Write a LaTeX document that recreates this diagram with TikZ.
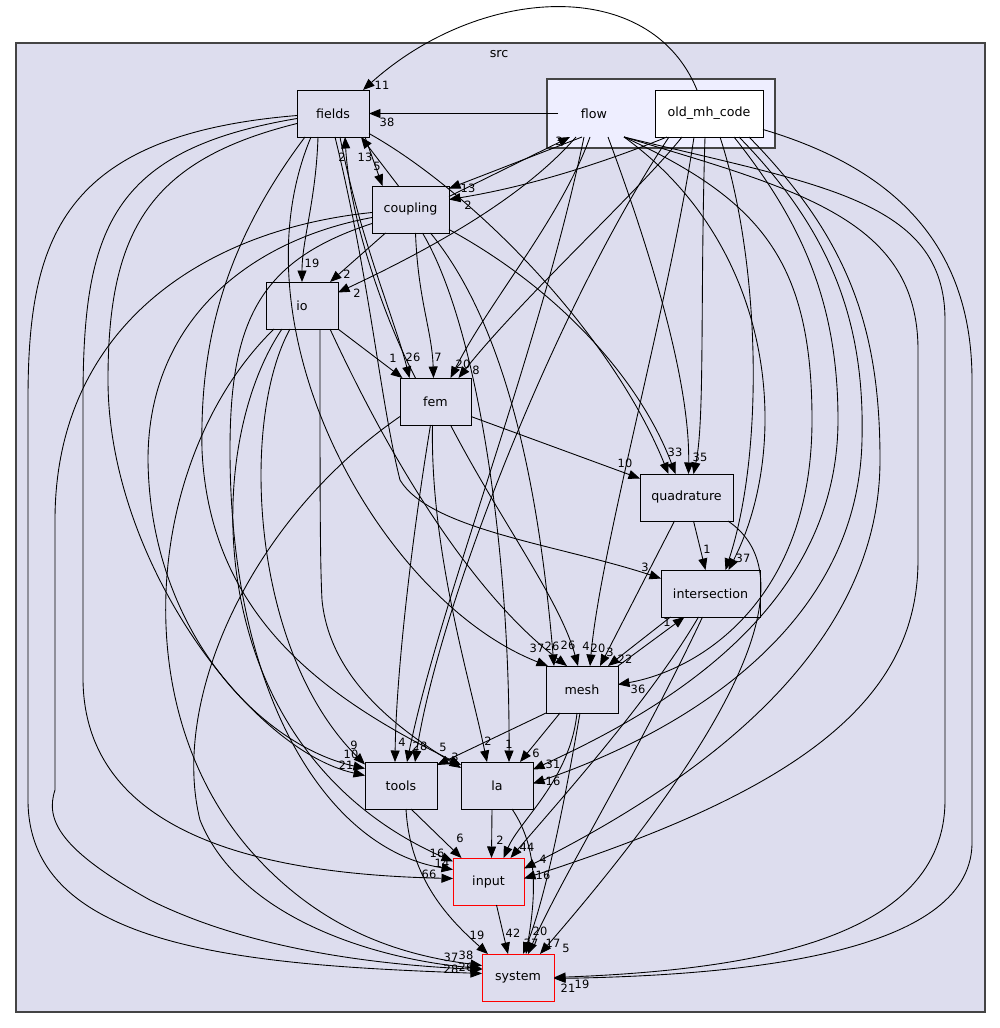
\documentclass[tikz,border=0pt]{standalone}
\usepackage{fontspec}
\setmainfont{DejaVu Sans}
\usetikzlibrary{arrows.meta,calc}
\definecolor{Src}{HTML}{DDDDEE}
\definecolor{Flow}{HTML}{EEEEFF}
\definecolor{Frame}{HTML}{444444}

\begin{document}
\begin{tikzpicture}[x=0.02cm,y=-0.02cm,
    dirbox/.style={draw,fill=Src,line width=0.55pt,minimum height=0.94cm,minimum width=1.44cm,inner sep=0pt,outer sep=0pt,font=\fontsize{7.2}{8.6}\selectfont},
    redbox/.style={dirbox,draw=red},
    clus/.style={draw=Frame,line width=0.75pt},
    dep/.style={-{Triangle[length=2.3mm,width=1.8mm]},line width=0.5pt},
    num/.style={inner sep=0pt,font=\fontsize{6.5}{7.5}\selectfont}]
    \useasboundingbox (0,0) rectangle (1000,1028);
    % clusters
    \draw[clus,fill=Src] (16,43) rectangle (985,1012);
    \node[font=\fontsize{7.2}{8.6}\selectfont] (src) at (499,54) {src};
    \draw[clus,fill=Flow] (547,79) rectangle (775,148);
    % directories
    \node[dirbox,draw=none,fill=none] (flow) at (594,113.5) {flow};
    \node[dirbox,fill=white,minimum width=2.16cm] (oldmh) at (709,113.5) {old\_mh\_code};
    \node[dirbox] (fields) at (333,113.5) {fields};
    \node[dirbox,minimum width=1.54cm] (coupling) at (410.5,209.5) {coupling};
    \node[dirbox] (io) at (302,305.5) {io};
    \node[dirbox,minimum width=1.42cm] (fem) at (435.5,401.5) {fem};
    \node[dirbox,minimum width=1.86cm] (quadrature) at (686.5,497.5) {quadrature};
    \node[dirbox,minimum width=1.98cm] (intersection) at (710.5,593.5) {intersection};
    \node[dirbox] (mesh) at (582,689.5) {mesh};
    \node[dirbox] (tools) at (401,785.5) {tools};
    \node[dirbox] (la) at (497,785.5) {la};
    \node[redbox,minimum width=1.42cm] (input) at (488.5,881.5) {input};
    \node[redbox] (system) at (518,977.5) {system};

    % fields
    \draw[dep] ($(fields.south)+(-15,0)$) .. controls (316,200) and (302,240) .. (io.north);
    \draw[dep] ($(fields.south)+(32,0)$) -- ($(coupling.north)+(-28,0)$);
    \draw[dep] ($(fields.south)+(7,0)$) .. controls (360,240) and (395,320) .. ($(fem.north)+(-26,0)$);
    \draw[dep] ($(fields.east)+(0,20)$) .. controls (470,190) and (610,330) .. ($(quadrature.north)+(-18,0)$);
    \draw[dep] ($(fields.south)+(2,0)$) .. controls (370,280) and (380,400) .. (400,480) .. controls (430,530) and (560,545) .. ($(intersection.west)+(0,-15)$);
    \draw[dep] ($(fields.south)+(-22,0)$) .. controls (230,330) and (380,600) .. ($(mesh.north)+(-34,0)$);
    \draw[dep] ($(fields.south)+(-28,0)$) .. controls (220,250) and (200,350) .. (202,450) .. controls (210,620) and (330,700) .. ($(la.north west)+(0,3)$);
    \draw[dep] ($(fields.west)+(0,10)$) .. controls (150,160) and (108,230) .. (108,380) .. controls (108,560) and (250,750) .. ($(tools.west)+(0,-10)$);
    \draw[dep] ($(fields.west)+(0,5)$) .. controls (110,150) and (83,230) .. (83,400) -- (83,680) .. controls (85,850) and (300,875) .. ($(input.west)+(0,-3)$);
    \draw[dep] ($(fields.west)+(0,2)$) .. controls (60,135) and (28,240) .. (28,400) -- (28,800) .. controls (28,950) and (250,965) .. ($(system.west)+(0,-4)$);

    % coupling
    \draw[dep] ($(coupling.east)+(0,-13)$) -- ($(flow.south)+(-24,0)$);
    \draw[dep] ($(coupling.north)+(-12,0)$) -- ($(fields.south)+(28,0)$);
    \draw[dep] ($(coupling.south)+(-25,0)$) -- ($(io.north)+(28,0)$);
    \draw[dep] ($(coupling.south)+(5,0)$) .. controls (418,300) and (432,330) .. ($(fem.north)+(-2,0)$);
    \draw[dep] ($(coupling.east)+(0,20)$) .. controls (560,290) and (640,380) .. ($(quadrature.north)+(-11,0)$);
    \draw[dep] ($(coupling.south)+(20,0)$) .. controls (510,330) and (540,500) .. ($(mesh.north)+(-28,0)$);
    \draw[dep] ($(coupling.south)+(12,0)$) .. controls (480,330) and (510,560) .. ($(la.north)+(12,0)$);
    \draw[dep] ($(coupling.west)+(0,8)$) .. controls (250,240) and (148,320) .. (148,460) .. controls (150,630) and (260,745) .. ($(tools.west)+(0,-17)$);
    \draw[dep] ($(coupling.west)+(0,3)$) .. controls (200,230) and (55,330) .. (55,520) -- (55,790) .. controls (45,820) and (60,850) .. (150,900) .. controls (250,950) and (380,965) .. ($(system.west)+(0,-8)$);
    \draw[dep] ($(coupling.west)+(0,14)$) .. controls (260,260) and (230,320) .. (230,450) .. controls (230,700) and (330,850) .. ($(input.west)+(0,-12)$);

    % io
    \draw[dep] (io.south east) -- ($(fem.north)+(-33,0)$);
    \draw[dep] ($(io.south)+(18,0)$) .. controls (320,500) and (320,560) .. (322,600) .. controls (330,680) and (400,730) .. ($(la.north west)+(0,6)$);
    \draw[dep] ($(io.south)+(28,0)$) .. controls (400,480) and (480,600) .. ($(mesh.north)+(-15,0)$);
    \draw[dep] ($(io.south)+(-12,0)$) .. controls (240,420) and (250,650) .. ($(tools.west)+(0,-21)$);
    \draw[dep] ($(io.south)+(-20,0)$) .. controls (200,450) and (200,750) .. ($(input.west)+(0,-20)$);
    \draw[dep] ($(io.south)+(-28,0)$) .. controls (150,450) and (120,700) .. (250,850) .. controls (320,930) and (400,955) .. ($(system.west)+(0,-12)$);

    % fem
    \draw[dep] ($(fem.north)+(-20,0)$) .. controls (385,320) and (350,220) .. ($(fields.south)+(12,0)$);
    \draw[dep] ($(fem.east)+(0,15)$) -- ($(quadrature.west)+(0,-19)$);
    \draw[dep] ($(fem.south)+(-5,0)$) .. controls (410,550) and (396,680) .. ($(tools.north)+(-6,0)$);
    \draw[dep] ($(fem.south)+(-3,0)$) .. controls (430,550) and (470,680) .. ($(la.north)+(-10,0)$);
    \draw[dep] ($(fem.south)+(15,0)$) .. controls (500,520) and (560,600) .. ($(mesh.north)+(-4,0)$);
    \draw[dep] ($(fem.west)+(0,15)$) .. controls (250,520) and (170,700) .. (200,820) .. controls (240,920) and (380,960) .. ($(system.west)+(0,-9)$);

    % flow
    \draw[dep] (flow.west) -- (fields.east);
    \draw[dep] ($(flow.south)+(-12,0)$) -- ($(coupling.east)+(0,-21)$);
    \draw[dep] ($(flow.south)+(-18,0)$) .. controls (530,190) and (450,240) .. ($(io.east)+(0,-13)$);
    \draw[dep] ($(flow.south)+(-4,0)$) .. controls (560,220) and (490,300) .. ($(fem.north)+(15,0)$);
    \draw[dep] ($(flow.south)+(14,0)$) .. controls (650,250) and (690,380) .. ($(quadrature.north)+(2,0)$);
    \draw[dep] ($(flow.south)+(-10,0)$) .. controls (540,350) and (440,600) .. ($(tools.north)+(6,0)$);
    \draw[dep] ($(flow.south)+(30,0)$) .. controls (780,250) and (790,450) .. ($(intersection.north)+(18,0)$);
    \draw[dep] ($(flow.south)+(30,0)$) .. controls (760,200) and (812,260) .. (812,420) .. controls (812,600) and (700,670) .. ($(mesh.east)+(0,-5)$);
    \draw[dep] ($(flow.south)+(30,0)$) .. controls (800,190) and (918,220) .. (918,350) -- (918,560) .. controls (918,700) and (800,790) .. ($(input.east)+(0,-3)$);
    \draw[dep] ($(flow.south)+(30,0)$) .. controls (820,185) and (945,200) .. (945,320) -- (945,800) .. controls (945,940) and (750,970) .. (system.east);

    % old_mh_code
    \draw[dep] ($(oldmh.north)+(-12,0)$) .. controls (650,-25) and (480,-15) .. ($(fields.north)+(30,0)$);
    \draw[dep] ($(oldmh.south)+(-42,0)$) .. controls (590,168) and (520,188) .. ($(coupling.east)+(0,-10)$);
    \draw[dep] ($(oldmh.south)+(-27,0)$) .. controls (640,190) and (520,300) .. ($(fem.north)+(23,0)$);
    \draw[dep] ($(oldmh.south)+(-4,0)$) .. controls (700,300) and (705,420) .. ($(quadrature.north)+(7,0)$);
    \draw[dep] ($(oldmh.south)+(11,0)$) .. controls (760,260) and (765,450) .. ($(intersection.north)+(15,0)$);
    \draw[dep] ($(oldmh.south)+(-40,0)$) .. controls (560,300) and (440,600) .. ($(tools.north)+(14,0)$);
    \draw[dep] ($(oldmh.south)+(-15,0)$) .. controls (670,300) and (600,550) .. ($(mesh.north)+(8,0)$);
    \draw[dep] ($(oldmh.south)+(25,0)$) .. controls (800,220) and (838,300) .. (838,420) .. controls (838,620) and (640,720) .. ($(la.east)+(0,-16)$);
    \draw[dep] ($(oldmh.south)+(30,0)$) .. controls (830,230) and (865,320) .. (862,440) .. controls (858,640) and (660,740) .. ($(la.east)+(0,-2)$);
    \draw[dep] ($(oldmh.south)+(40,0)$) .. controls (850,240) and (880,330) .. (880,460) .. controls (880,650) and (700,780) .. ($(input.east)+(0,-13)$);
    \draw[dep] ($(oldmh.east)+(0,16)$) .. controls (900,170) and (972,250) .. (972,380) -- (972,840) .. controls (975,950) and (760,975) .. ($(system.east)+(0,1)$);

    % quadrature, intersection, mesh
    \draw[dep] ($(quadrature.south)+(7,0)$) -- ($(intersection.north)+(-5,0)$);
    \draw[dep] ($(quadrature.south)+(-12,0)$) -- ($(mesh.north)+(18,0)$);
    \draw[dep] ($(quadrature.south east)+(-5,0)$) .. controls (800,570) and (760,700) .. ($(system.north)+(22,0)$);
    \draw[dep] ($(intersection.south)+(-40,0)$) -- ($(mesh.north)+(26,0)$);
    \draw[dep] ($(intersection.south)+(-12,0)$) .. controls (650,700) and (560,800) .. ($(input.north)+(22,0)$);
    \draw[dep] ($(intersection.south)+(-8,0)$) .. controls (640,750) and (560,880) .. ($(system.north)+(10,0)$);
    \draw[dep] (mesh.north east) -- ($(intersection.south)+(-26,0)$);
    \draw[dep] (mesh.south west) -- ($(tools.north east)+(0,3)$);
    \draw[dep] ($(mesh.south)+(-22,0)$) -- ($(la.north)+(23,0)$);
    \draw[dep] ($(mesh.south)+(-5,0)$) .. controls (570,780) and (520,820) .. ($(input.north)+(15,0)$);
    \draw[dep] ($(mesh.south)+(-2,0)$) .. controls (565,800) and (545,900) .. ($(system.north)+(5,0)$);

    % tools, la, input
    \draw[dep] ($(tools.south)+(10,0)$) -- ($(input.north)+(-27,0)$);
    \draw[dep] ($(tools.south)+(5,0)$) .. controls (410,880) and (450,920) .. ($(system.north)+(-30,0)$);
    \draw[dep] ($(la.south)+(-5,0)$) -- ($(input.north)+(3,0)$);
    \draw[dep] ($(la.south)+(15,0)$) .. controls (540,850) and (535,900) .. ($(system.north)+(8,0)$);
    \draw[dep] ($(input.south)+(8,0)$) -- ($(system.north)+(-10,0)$);

    % edge counts
    \foreach \px/\py/\t [count=\i] in {382/85/11, 387/122/38, 342/157/2, 365/157/13,
        377/166/5, 468/188/13, 468/205/2, 559/141/3,
        312/263/19, 347/274/2, 357/293/2,
        393/358/1, 413/357/26, 438/357/7, 463/364/20, 476/370/8,
        625/463/10, 675/452/33, 700/457/35,
        645/567/3, 707/549/1, 743/558/37, 667/622/1,
        537/648/37, 552/646/26, 568/645/26, 586/646/4, 598/648/20, 610/652/3, 625/659/22, 638/689/36,
        354/745/9, 351/754/10, 346/765/21, 402/742/4, 420/746/28, 443/747/5, 455/757/3,
        488/741/2, 509/744/1, 536/753/6, 553/764/31, 553/781/16,
        460/838/6, 500/840/2, 437/853/16, 442/863/14, 429/874/66, 527/847/44, 543/859/4, 543/875/16,
        477/935/19, 513/933/42, 531/943/37, 540/931/20, 553/943/17, 566/948/5,
        451/957/37, 466/955/38, 451/969/28, 466/967/26, 568/988/21, 582/984/19}
      \node[num] (lab\i) at (\px,\py) {\t};
  \end{tikzpicture}
\end{document}
